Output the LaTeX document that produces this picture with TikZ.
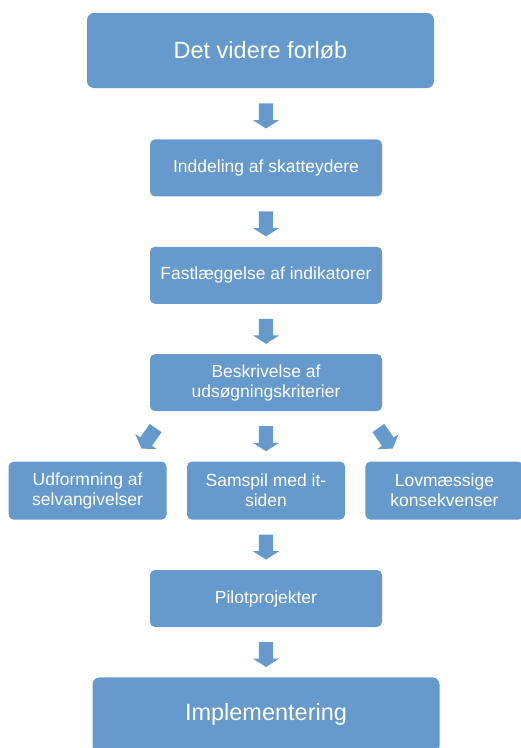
\documentclass[tikz,border=0pt]{standalone}
\usepackage{fontspec}
\setmainfont{Liberation Sans}
\usetikzlibrary{positioning,shapes.arrows,calc}
\definecolor{boxblue}{RGB}{103,154,204}
\tikzset{bigbox/.style={rectangle,rounded corners=7pt,fill=boxblue,text=white,minimum width=347pt,minimum height=75pt,font=\fontsize{23.5}{28}\selectfont}}
\tikzset{stepbox/.style={rectangle,rounded corners=5pt,fill=boxblue,text=white,minimum width=232pt,minimum height=57pt,align=center,font=\fontsize{17.5}{20}\selectfont}}
\tikzset{sidebox/.style={stepbox,minimum width=158pt,minimum height=58pt}}
\tikzset{blockpil/.style={single arrow,fill=boxblue,inner sep=0pt,inner ysep=7pt,minimum height=25pt,single arrow head extend=6pt,single arrow tip angle=115}}

\begin{document}
\begin{tikzpicture}[x=1pt,y=-1pt,node distance=50pt]
\useasboundingbox (0,0) rectangle (521,748);
	\node (forloeb) [bigbox] at (260.5,50.5) {Det videre forløb};
	\node (skat) [stepbox, below =51pt of forloeb, xshift=5.5pt] {Inddeling af skatteydere};
	\node (indik) [stepbox, below =of skat] {Fastlæggelse af indikatorer};
	\node (krit) [stepbox, below =of indik] {Beskrivelse af\\udsøgningskriterier};
	\node (samspil) [sidebox, below =of krit] {Samspil med it-\\siden};
	\node (udform) [sidebox, left =20pt of samspil] {Udformning af\\selvangivelser};
	\node (lov) [sidebox, right =20pt of samspil] {Lovmæssige\\konsekvenser};
	\node (pilot) [stepbox, below =of samspil] {Pilotprojekter};
	\node (impl) [bigbox, below =of pilot] {Implementering};
% blokpile mellem trinene
	\node (pil1) [blockpil, rotate=-90] at ($(forloeb.south -| skat)!0.5!(skat.north)$) {};
	\node (pil2) [blockpil, rotate=-90] at ($(skat.south)!0.5!(indik.north)$) {};
	\node (pil3) [blockpil, rotate=-90] at ($(indik.south)!0.5!(krit.north)$) {};
	\node (pilv) [blockpil, rotate=-125] at ($(krit.south west)+(0,25)$) {};
	\node (pilm) [blockpil, rotate=-90] at ($(krit.south)!0.5!(samspil.north)$) {};
	\node (pilh) [blockpil, rotate=-55] at ($(krit.south east)+(2,25)$) {};
	\node (pil4) [blockpil, rotate=-90] at ($(samspil.south)!0.5!(pilot.north)$) {};
	\node (pil5) [blockpil, rotate=-90] at ($(pilot.south)!0.5!(impl.north)$) {};
\end{tikzpicture}
\end{document}
